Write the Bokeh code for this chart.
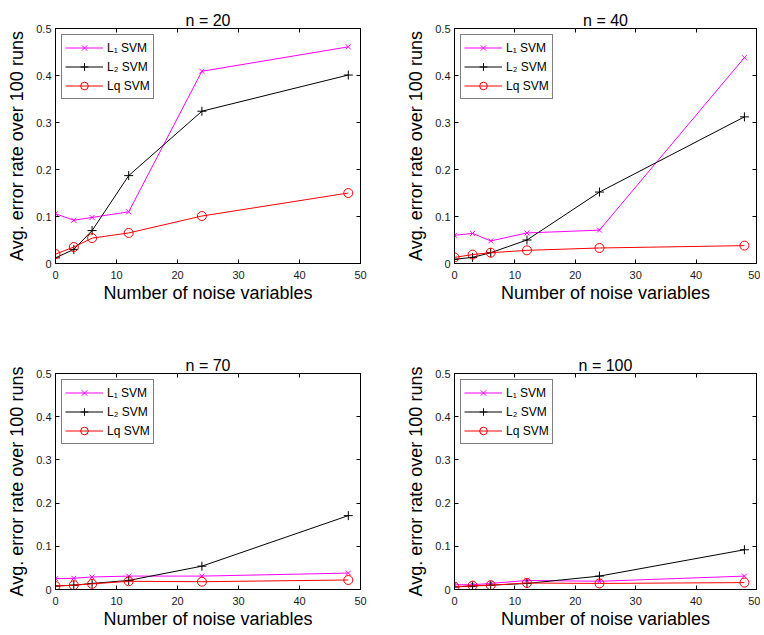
from bokeh.plotting import figure
from bokeh.layouts import column, row
from bokeh.models import (Legend, LegendItem, LinearAxis, FixedTicker, Range1d,
                          CustomJSTickFormatter)
from bokeh.embed import file_html
from bokeh.resources import INLINE

# ---------------- data ----------------
noise_vars = [0, 3, 6, 12, 24, 48]
panel_titles = ["n = 20", "n = 40", "n = 70", "n = 100"]
series_names = ["L\u2081 SVM", "L\u2082 SVM", "Lq SVM"]

l1_n20 = [0.106, 0.092, 0.098, 0.110, 0.409, 0.461]
l2_n20 = [0.012, 0.030, 0.070, 0.187, 0.324, 0.401]
lq_n20 = [0.020, 0.035, 0.054, 0.065, 0.101, 0.150]

l1_n40 = [0.060, 0.064, 0.048, 0.065, 0.071, 0.438]
l2_n40 = [0.009, 0.013, 0.023, 0.050, 0.152, 0.312]
lq_n40 = [0.013, 0.019, 0.023, 0.028, 0.033, 0.038]

l1_n70 = [0.025, 0.026, 0.029, 0.031, 0.031, 0.038]
l2_n70 = [0.008, 0.010, 0.014, 0.021, 0.054, 0.171]
lq_n70 = [0.008, 0.010, 0.013, 0.019, 0.018, 0.022]

l1_n100 = [0.011, 0.011, 0.014, 0.021, 0.019, 0.031]
l2_n100 = [0.006, 0.008, 0.010, 0.014, 0.031, 0.092]
lq_n100 = [0.006, 0.009, 0.010, 0.015, 0.014, 0.016]

x_ticks = [0, 10, 20, 30, 40, 50]
y_ticks = [0, 0.1, 0.2, 0.3, 0.4, 0.5]
y_tick_labels = ["0", "0.1", "0.2", "0.3", "0.4", "0.5"]

panel_data = [
    (l1_n20, l2_n20, lq_n20),
    (l1_n40, l2_n40, lq_n40),
    (l1_n70, l2_n70, lq_n70),
    (l1_n100, l2_n100, lq_n100),
]

FONT = "Liberation Sans"
MAGENTA = "#ff00ff"
RED = "#ff0000"
BLACK = "#000000"


def style_axis(ax, show_labels=True):
    ax.axis_line_color = BLACK
    ax.axis_line_width = 1
    ax.major_tick_in = 4
    ax.major_tick_out = 0
    ax.major_tick_line_color = BLACK
    ax.minor_tick_line_color = None
    ax.major_label_text_font = FONT
    ax.major_label_text_font_size = "11px"
    ax.major_label_text_color = "#1a1a1a"
    if not show_labels:
        ax.formatter = CustomJSTickFormatter(code="return ''")
        ax.major_label_text_font_size = "0px"
        ax.major_label_standoff = 0
        ax.axis_label = None
        ax.axis_label_standoff = 0


def make_panel(idx, frame_w, frame_h, b_left, b_right, b_top, b_bottom):
    title = panel_titles[idx]
    l1, l2, lq = panel_data[idx]
    p = figure(frame_width=frame_w, frame_height=frame_h, output_backend="svg",
               toolbar_location=None, x_range=Range1d(0, 50),
               y_range=Range1d(0, 0.5), title=title,
               min_border_left=b_left, min_border_right=b_right,
               min_border_top=b_top, min_border_bottom=b_bottom)
    p.grid.visible = False
    p.outline_line_color = BLACK
    p.outline_line_width = 1
    p.background_fill_color = "white"
    p.border_fill_color = "white"

    p.title.align = "center"
    p.title.text_font = FONT
    p.title.text_font_size = "16px"
    p.title.text_font_style = "normal"
    p.title.text_color = BLACK
    p.title.standoff = 0

    p.xaxis.ticker = FixedTicker(ticks=x_ticks)
    p.yaxis.ticker = FixedTicker(ticks=y_ticks)
    p.yaxis.major_label_overrides = {t: s for t, s in zip(y_ticks, y_tick_labels)}
    p.xaxis.axis_label = "Number of noise variables"
    p.yaxis.axis_label = "Avg. error rate over 100 runs"
    for ax in (p.xaxis[0], p.yaxis[0]):
        style_axis(ax)
        ax.axis_label_text_font = FONT
        ax.axis_label_text_font_size = "18px"
        ax.axis_label_text_font_style = "normal"
        ax.axis_label_text_color = BLACK
    p.xaxis.major_label_standoff = 7
    p.xaxis.axis_label_standoff = 1
    p.yaxis.major_label_standoff = 4
    p.yaxis.axis_label_standoff = 6

    top_ax = LinearAxis(ticker=FixedTicker(ticks=x_ticks))
    right_ax = LinearAxis(ticker=FixedTicker(ticks=y_ticks))
    style_axis(top_ax, show_labels=False)
    style_axis(right_ax, show_labels=False)
    p.add_layout(top_ax, "above")
    p.add_layout(right_ax, "right")

    r1l = p.line(noise_vars, l1, line_color=MAGENTA, line_width=1)
    r1m = p.scatter(noise_vars, l1, marker="x", size=7, line_color=MAGENTA,
                    line_width=1)
    r2l = p.line(noise_vars, l2, line_color=BLACK, line_width=1)
    r2m = p.scatter(noise_vars, l2, marker="cross", size=9, line_color=BLACK,
                    line_width=1)
    r3l = p.line(noise_vars, lq, line_color=RED, line_width=1)
    r3m = p.scatter(noise_vars, lq, marker="circle", size=9, line_color=RED,
                    fill_color=None, line_width=1)

    legend = Legend(items=[
        LegendItem(label=series_names[0], renderers=[r1l, r1m]),
        LegendItem(label=series_names[1], renderers=[r2l, r2m]),
        LegendItem(label=series_names[2], renderers=[r3l, r3m]),
    ], location="top_left")
    legend.margin = 6
    legend.padding = 3
    legend.spacing = 0
    legend.glyph_width = 38
    legend.glyph_height = 19
    legend.label_height = 19
    legend.label_standoff = 4
    legend.label_text_font = FONT
    legend.label_text_font_size = "12px"
    legend.label_text_color = BLACK
    legend.border_line_color = BLACK
    legend.border_line_width = 1
    legend.background_fill_alpha = 1
    p.add_layout(legend, "center")
    return p


p1 = make_panel(0, 305, 235, 55, 20, 28, 82)
p2 = make_panel(1, 302, 235, 74, 4, 28, 82)
p3 = make_panel(2, 305, 216, 55, 20, 28, 41)
p4 = make_panel(3, 302, 216, 74, 4, 28, 41)

layout = column(row(p1, p2), row(p3, p4))

open("out.html", "w").write(file_html(layout, INLINE))
